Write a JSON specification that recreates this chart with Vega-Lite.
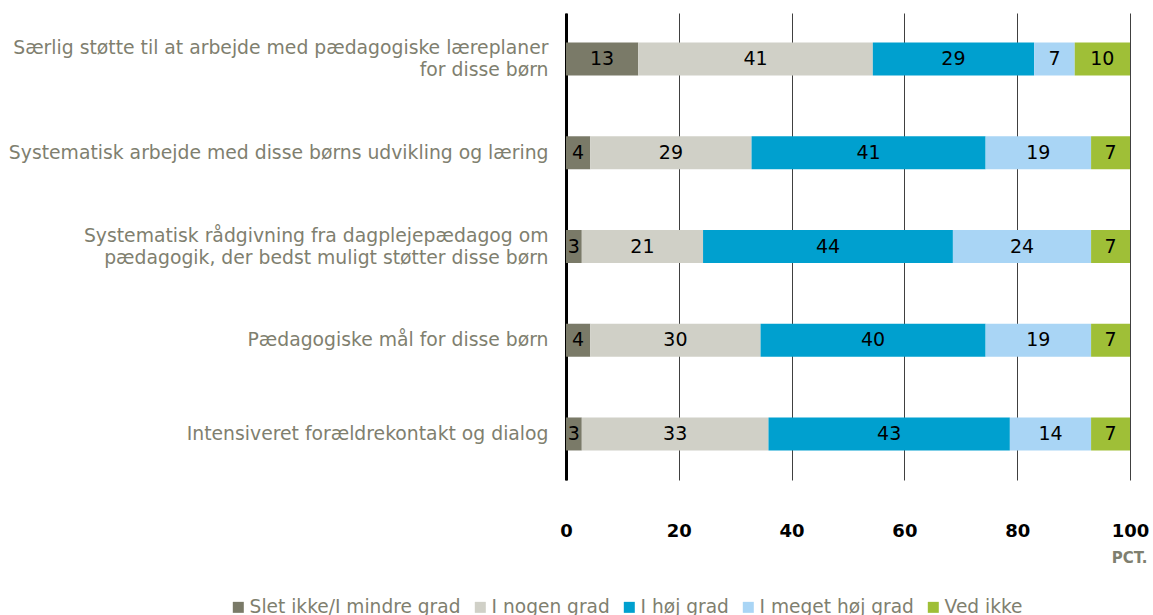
{
  "$schema": "https://vega.github.io/schema/vega-lite/v6.json",
  "width": 564,
  "height": 467,
  "autosize": {"type": "none"},
  "padding": {"left": 566, "top": 13, "right": 23, "bottom": 135},
  "background": "white",
  "config": {
    "font": "DejaVu Sans",
    "view": {"stroke": null}
  },
  "data": {
    "values": [
      {"q": "Særlig støtte til at arbejde med pædagogiske læreplaner for disse børn", "r": 1, "s": "Slet ikke/I mindre grad", "k": 1, "v": 12.8, "lab": "13"},
      {"q": "Særlig støtte til at arbejde med pædagogiske læreplaner for disse børn", "r": 1, "s": "I nogen grad", "k": 2, "v": 41.6, "lab": "41"},
      {"q": "Særlig støtte til at arbejde med pædagogiske læreplaner for disse børn", "r": 1, "s": "I høj grad", "k": 3, "v": 28.6, "lab": "29"},
      {"q": "Særlig støtte til at arbejde med pædagogiske læreplaner for disse børn", "r": 1, "s": "I meget høj grad", "k": 4, "v": 7.2, "lab": "7"},
      {"q": "Særlig støtte til at arbejde med pædagogiske læreplaner for disse børn", "r": 1, "s": "Ved ikke", "k": 5, "v": 9.8, "lab": "10"},
      {"q": "Systematisk arbejde med disse børns udvikling og læring", "r": 2, "s": "Slet ikke/I mindre grad", "k": 1, "v": 4.3, "lab": "4"},
      {"q": "Systematisk arbejde med disse børns udvikling og læring", "r": 2, "s": "I nogen grad", "k": 2, "v": 28.6, "lab": "29"},
      {"q": "Systematisk arbejde med disse børns udvikling og læring", "r": 2, "s": "I høj grad", "k": 3, "v": 41.5, "lab": "41"},
      {"q": "Systematisk arbejde med disse børns udvikling og læring", "r": 2, "s": "I meget høj grad", "k": 4, "v": 18.7, "lab": "19"},
      {"q": "Systematisk arbejde med disse børns udvikling og læring", "r": 2, "s": "Ved ikke", "k": 5, "v": 6.9, "lab": "7"},
      {"q": "Systematisk rådgivning fra dagplejepædagog om pædagogik, der bedst muligt støtter disse børn", "r": 3, "s": "Slet ikke/I mindre grad", "k": 1, "v": 2.8, "lab": "3"},
      {"q": "Systematisk rådgivning fra dagplejepædagog om pædagogik, der bedst muligt støtter disse børn", "r": 3, "s": "I nogen grad", "k": 2, "v": 21.5, "lab": "21"},
      {"q": "Systematisk rådgivning fra dagplejepædagog om pædagogik, der bedst muligt støtter disse børn", "r": 3, "s": "I høj grad", "k": 3, "v": 44.3, "lab": "44"},
      {"q": "Systematisk rådgivning fra dagplejepædagog om pædagogik, der bedst muligt støtter disse børn", "r": 3, "s": "I meget høj grad", "k": 4, "v": 24.5, "lab": "24"},
      {"q": "Systematisk rådgivning fra dagplejepædagog om pædagogik, der bedst muligt støtter disse børn", "r": 3, "s": "Ved ikke", "k": 5, "v": 6.9, "lab": "7"},
      {"q": "Pædagogiske mål for disse børn", "r": 4, "s": "Slet ikke/I mindre grad", "k": 1, "v": 4.3, "lab": "4"},
      {"q": "Pædagogiske mål for disse børn", "r": 4, "s": "I nogen grad", "k": 2, "v": 30.2, "lab": "30"},
      {"q": "Pædagogiske mål for disse børn", "r": 4, "s": "I høj grad", "k": 3, "v": 39.9, "lab": "40"},
      {"q": "Pædagogiske mål for disse børn", "r": 4, "s": "I meget høj grad", "k": 4, "v": 18.7, "lab": "19"},
      {"q": "Pædagogiske mål for disse børn", "r": 4, "s": "Ved ikke", "k": 5, "v": 6.9, "lab": "7"},
      {"q": "Intensiveret forældrekontakt og dialog", "r": 5, "s": "Slet ikke/I mindre grad", "k": 1, "v": 2.8, "lab": "3"},
      {"q": "Intensiveret forældrekontakt og dialog", "r": 5, "s": "I nogen grad", "k": 2, "v": 33.1, "lab": "33"},
      {"q": "Intensiveret forældrekontakt og dialog", "r": 5, "s": "I høj grad", "k": 3, "v": 42.8, "lab": "43"},
      {"q": "Intensiveret forældrekontakt og dialog", "r": 5, "s": "I meget høj grad", "k": 4, "v": 14.4, "lab": "14"},
      {"q": "Intensiveret forældrekontakt og dialog", "r": 5, "s": "Ved ikke", "k": 5, "v": 6.9, "lab": "7"}
    ]
  },
  "transform": [
    {"stack": "v", "groupby": ["q"], "sort": [{"field": "k", "order": "ascending"}], "as": ["x0", "x1"]},
    {"calculate": "(datum.x0 + datum.x1) / 2", "as": "xm"}
  ],
  "encoding": {
    "y": {
      "field": "q",
      "type": "nominal",
      "sort": {"field": "r", "order": "ascending"},
      "scale": {"paddingInner": 0.648, "paddingOuter": 0.315},
      "axis": {
        "title": null,
        "domain": true,
        "domainColor": "#000000",
        "domainWidth": 3,
        "ticks": false,
        "labelFont": "DejaVu Sans",
        "labelFontSize": 18.8,
        "labelColor": "#7f7f6f",
        "labelPadding": 18,
        "labelLimit": 600,
        "labelLineHeight": 22,
        "labelOffset": {"condition": {"test": "length(datum.value) > 60", "value": -11}, "value": 0},
        "labelExpr": "datum.value == 'Særlig støtte til at arbejde med pædagogiske læreplaner for disse børn' ? ['Særlig støtte til at arbejde med pædagogiske læreplaner', 'for disse børn'] : datum.value == 'Systematisk rådgivning fra dagplejepædagog om pædagogik, der bedst muligt støtter disse børn' ? ['Systematisk rådgivning fra dagplejepædagog om', 'pædagogik, der bedst muligt støtter disse børn'] : datum.value"
      }
    }
  },
  "layer": [
    {
      "mark": {"type": "bar"},
      "encoding": {
        "x": {
          "field": "x0",
          "type": "quantitative",
          "scale": {"domain": [0, 100], "nice": false},
          "axis": {
            "values": [0, 20, 40, 60, 80, 100],
            "domain": false,
            "ticks": false,
            "grid": true,
            "gridColor": "#404040",
            "gridWidth": 1,
            "labelFont": "DejaVu Sans",
            "labelFontSize": 18,
            "labelFontWeight": "bold",
            "labelColor": "#000000",
            "labelPadding": 42,
            "labelFlush": false,
            "title": "PCT.",
            "titleFont": "DejaVu Sans",
            "titleFontSize": 15,
            "titleFontWeight": "bold",
            "titleColor": "#7f7f6f",
            "titleAnchor": "end",
            "titleAlign": "right",
            "titleBaseline": "middle",
            "titleX": 581,
            "titleY": 77
          }
        },
        "x2": {"field": "x1"},
        "color": {
          "field": "s",
          "type": "nominal",
          "sort": ["Slet ikke/I mindre grad", "I nogen grad", "I høj grad", "I meget høj grad", "Ved ikke"],
          "scale": {
            "domain": ["Slet ikke/I mindre grad", "I nogen grad", "I høj grad", "I meget høj grad", "Ved ikke"],
            "range": ["#7a7a68", "#d0d0c7", "#00a0cf", "#a9d5f5", "#9fbf37"]
          },
          "legend": {
            "title": null,
            "orient": "none",
            "direction": "horizontal",
            "legendX": -337,
            "legendY": 585,
            "symbolType": "square",
            "symbolSize": 121,
            "symbolStrokeWidth": 0,
            "symbolOffset": 0,
            "labelOffset": 2,
            "labelFont": "DejaVu Sans",
            "labelFontSize": 18.6,
            "labelColor": "#7f7f6f",
            "labelLimit": 400,
            "columnPadding": 10
          }
        }
      }
    },
    {
      "mark": {"type": "text", "font": "DejaVu Sans", "fontSize": 19, "color": "#000000", "baseline": "middle", "align": "center"},
      "encoding": {
        "x": {"field": "xm", "type": "quantitative"},
        "text": {"field": "lab"}
      }
    }
  ]
}
